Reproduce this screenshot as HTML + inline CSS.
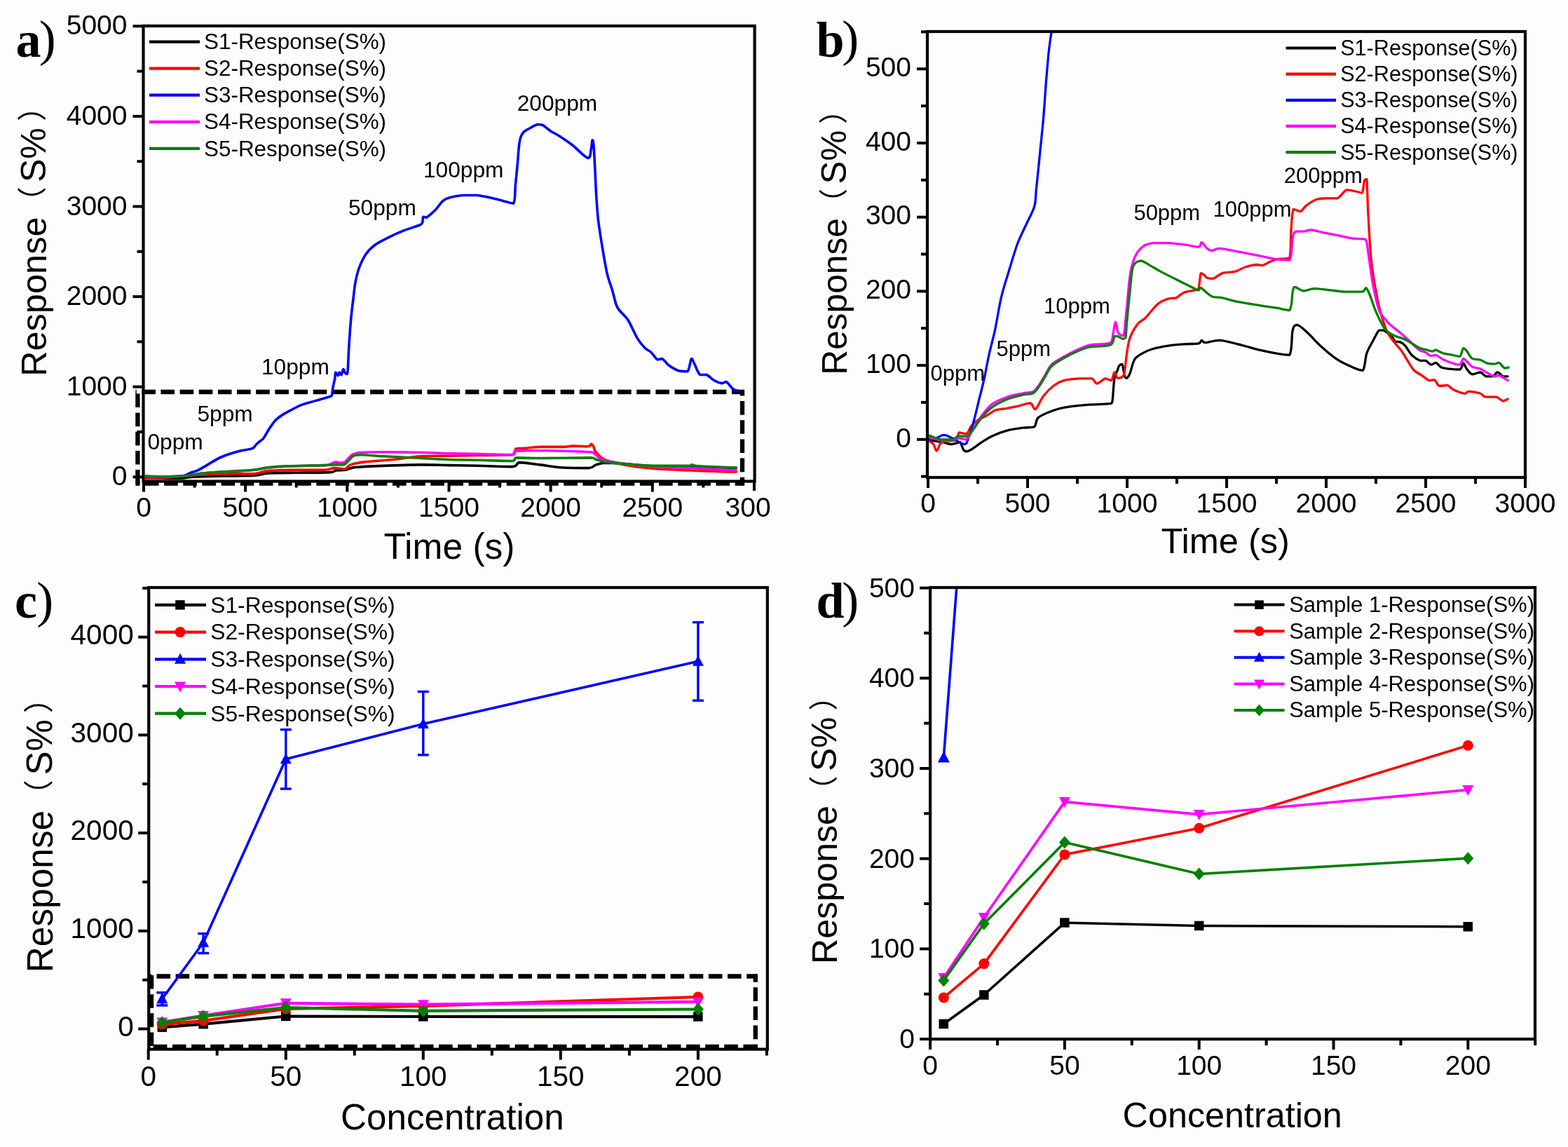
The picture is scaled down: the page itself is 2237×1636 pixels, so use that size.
<!DOCTYPE html>
<html><head><meta charset="utf-8"><title>Gas sensor response</title>
<style>html,body{margin:0;padding:0;background:#fdfdfd;}svg{display:block;}</style>
</head><body>
<svg width="2237" height="1636" viewBox="0 0 2237 1636">
<rect width="2237" height="1636" fill="#fdfdfd"/>
<rect x="204.5" y="37" width="872.0999999999999" height="649.5" fill="none" stroke="#000" stroke-width="4.2"/>
<line x1="189.5" y1="680.3" x2="204.5" y2="680.3" stroke="#000" stroke-width="4" />
<text x="181.5" y="692.3" font-size="39" text-anchor="end" style="font-family:'Liberation Sans',Arial,sans-serif" >0</text>
<line x1="189.5" y1="551.7" x2="204.5" y2="551.7" stroke="#000" stroke-width="4" />
<text x="181.5" y="563.7" font-size="39" text-anchor="end" style="font-family:'Liberation Sans',Arial,sans-serif" >1000</text>
<line x1="189.5" y1="423.1" x2="204.5" y2="423.1" stroke="#000" stroke-width="4" />
<text x="181.5" y="435.1" font-size="39" text-anchor="end" style="font-family:'Liberation Sans',Arial,sans-serif" >2000</text>
<line x1="189.5" y1="294.5" x2="204.5" y2="294.5" stroke="#000" stroke-width="4" />
<text x="181.5" y="306.5" font-size="39" text-anchor="end" style="font-family:'Liberation Sans',Arial,sans-serif" >3000</text>
<line x1="189.5" y1="165.9" x2="204.5" y2="165.9" stroke="#000" stroke-width="4" />
<text x="181.5" y="177.9" font-size="39" text-anchor="end" style="font-family:'Liberation Sans',Arial,sans-serif" >4000</text>
<line x1="189.5" y1="37.3" x2="204.5" y2="37.3" stroke="#000" stroke-width="4" />
<text x="181.5" y="49.3" font-size="39" text-anchor="end" style="font-family:'Liberation Sans',Arial,sans-serif" >5000</text>
<line x1="195.5" y1="616.0" x2="204.5" y2="616.0" stroke="#000" stroke-width="4" />
<line x1="195.5" y1="487.4" x2="204.5" y2="487.4" stroke="#000" stroke-width="4" />
<line x1="195.5" y1="358.8" x2="204.5" y2="358.8" stroke="#000" stroke-width="4" />
<line x1="195.5" y1="230.2" x2="204.5" y2="230.2" stroke="#000" stroke-width="4" />
<line x1="195.5" y1="101.6" x2="204.5" y2="101.6" stroke="#000" stroke-width="4" />
<line x1="205.0" y1="686.5" x2="205.0" y2="701.5" stroke="#000" stroke-width="4" />
<text x="205.0" y="737.0" font-size="39" text-anchor="middle" style="font-family:'Liberation Sans',Arial,sans-serif" >0</text>
<line x1="350.1" y1="686.5" x2="350.1" y2="701.5" stroke="#000" stroke-width="4" />
<text x="350.1" y="737.0" font-size="39" text-anchor="middle" style="font-family:'Liberation Sans',Arial,sans-serif" >500</text>
<line x1="495.3" y1="686.5" x2="495.3" y2="701.5" stroke="#000" stroke-width="4" />
<text x="495.3" y="737.0" font-size="39" text-anchor="middle" style="font-family:'Liberation Sans',Arial,sans-serif" >1000</text>
<line x1="640.5" y1="686.5" x2="640.5" y2="701.5" stroke="#000" stroke-width="4" />
<text x="640.5" y="737.0" font-size="39" text-anchor="middle" style="font-family:'Liberation Sans',Arial,sans-serif" >1500</text>
<line x1="785.6" y1="686.5" x2="785.6" y2="701.5" stroke="#000" stroke-width="4" />
<text x="785.6" y="737.0" font-size="39" text-anchor="middle" style="font-family:'Liberation Sans',Arial,sans-serif" >2000</text>
<line x1="930.8" y1="686.5" x2="930.8" y2="701.5" stroke="#000" stroke-width="4" />
<text x="930.8" y="737.0" font-size="39" text-anchor="middle" style="font-family:'Liberation Sans',Arial,sans-serif" >2500</text>
<line x1="277.6" y1="686.5" x2="277.6" y2="695.5" stroke="#000" stroke-width="4" />
<line x1="422.7" y1="686.5" x2="422.7" y2="695.5" stroke="#000" stroke-width="4" />
<line x1="567.9" y1="686.5" x2="567.9" y2="695.5" stroke="#000" stroke-width="4" />
<line x1="713.0" y1="686.5" x2="713.0" y2="695.5" stroke="#000" stroke-width="4" />
<line x1="858.2" y1="686.5" x2="858.2" y2="695.5" stroke="#000" stroke-width="4" />
<line x1="1003.3" y1="686.5" x2="1003.3" y2="695.5" stroke="#000" stroke-width="4" />
<line x1="1076.0" y1="686.0" x2="1076.0" y2="700.0" stroke="#000" stroke-width="4" />
<text x="1034.5" y="737.0" font-size="39" text-anchor="start" style="font-family:'Liberation Sans',Arial,sans-serif" >300</text>
<text x="641.0" y="796.5" font-size="51.5" text-anchor="middle" style="font-family:'Liberation Sans',Arial,sans-serif" >Time (s)</text>
<text x="0" y="0" font-size="50.58" transform="translate(65.5,537.1) rotate(-90)" style="font-family:'Liberation Sans',Arial,sans-serif">Response</text>
<text x="0" y="0" font-size="42.15" transform="translate(61.4,308.5) rotate(-90)" style="font-family:'Noto Sans CJK SC','Noto Sans CJK JP',sans-serif;font-weight:400">（</text>
<text x="0" y="0" font-size="50.17" transform="translate(64.8,260.1) rotate(-90)" style="font-family:'Liberation Sans',Arial,sans-serif">S%</text>
<text x="0" y="0" font-size="42.15" transform="translate(61.4,173.0) rotate(-90)" style="font-family:'Noto Sans CJK SC','Noto Sans CJK JP',sans-serif;font-weight:400">）</text>
<text x="22.5" y="80.5" font-size="72" text-anchor="start" style="font-family:'Liberation Serif','Times New Roman',serif;font-weight:bold" >a</text>
<text x="67.8" y="79.0" font-size="72" text-anchor="middle" style="font-family:'Liberation Serif','Times New Roman',serif" >)</text>
<line x1="213.0" y1="59.6" x2="285.0" y2="59.6" stroke="#000000" stroke-width="4.2" />
<text x="291.1" y="70.3" font-size="31.4" text-anchor="start" style="font-family:'Liberation Sans',Arial,sans-serif" >S1-Response(S%)</text>
<line x1="213.0" y1="97.7" x2="285.0" y2="97.7" stroke="#ff0000" stroke-width="4.2" />
<text x="291.1" y="108.4" font-size="31.4" text-anchor="start" style="font-family:'Liberation Sans',Arial,sans-serif" >S2-Response(S%)</text>
<line x1="213.0" y1="135.7" x2="285.0" y2="135.7" stroke="#0000ff" stroke-width="4.2" />
<text x="291.1" y="146.4" font-size="31.4" text-anchor="start" style="font-family:'Liberation Sans',Arial,sans-serif" >S3-Response(S%)</text>
<line x1="213.0" y1="173.8" x2="285.0" y2="173.8" stroke="#ff00ff" stroke-width="4.2" />
<text x="291.1" y="184.4" font-size="31.4" text-anchor="start" style="font-family:'Liberation Sans',Arial,sans-serif" >S4-Response(S%)</text>
<line x1="213.0" y1="211.8" x2="285.0" y2="211.8" stroke="#008000" stroke-width="4.2" />
<text x="291.1" y="222.5" font-size="31.4" text-anchor="start" style="font-family:'Liberation Sans',Arial,sans-serif" >S5-Response(S%)</text>
<text x="210.5" y="640.5" font-size="31.7" text-anchor="start" style="font-family:'Liberation Sans',Arial,sans-serif" >0ppm</text>
<text x="281.5" y="600.5" font-size="31.7" text-anchor="start" style="font-family:'Liberation Sans',Arial,sans-serif" >5ppm</text>
<text x="373.0" y="533.5" font-size="31.7" text-anchor="start" style="font-family:'Liberation Sans',Arial,sans-serif" >10ppm</text>
<text x="497.0" y="306.5" font-size="31.7" text-anchor="start" style="font-family:'Liberation Sans',Arial,sans-serif" >50ppm</text>
<text x="604.0" y="252.6" font-size="31.7" text-anchor="start" style="font-family:'Liberation Sans',Arial,sans-serif" >100ppm</text>
<text x="737.7" y="158.3" font-size="31.7" text-anchor="start" style="font-family:'Liberation Sans',Arial,sans-serif" >200ppm</text>
<line x1="193.4" y1="559" x2="1062" y2="559" stroke="#000" stroke-width="6.3" stroke-dasharray="19.6,7.55" stroke-dashoffset="18.25"/>
<line x1="193.4" y1="689.5" x2="1062" y2="689.5" stroke="#000" stroke-width="6.3" stroke-dasharray="19.6,7.55" stroke-dashoffset="13.55"/>
<line x1="196.4" y1="556" x2="196.4" y2="692.5" stroke="#000" stroke-width="6.3" stroke-dasharray="19.6,7.55" stroke-dashoffset="21.65"/>
<line x1="1059" y1="556" x2="1059" y2="692.5" stroke="#000" stroke-width="6.3" stroke-dasharray="19.6,7.55" stroke-dashoffset="11.05"/>
<rect x="1323" y="45" width="853" height="636" fill="none" stroke="#000" stroke-width="4.2"/>
<line x1="1308.0" y1="626.8" x2="1323.0" y2="626.8" stroke="#000" stroke-width="4" />
<text x="1300.0" y="637.5" font-size="39" text-anchor="end" style="font-family:'Liberation Sans',Arial,sans-serif" >0</text>
<line x1="1308.0" y1="521.1" x2="1323.0" y2="521.1" stroke="#000" stroke-width="4" />
<text x="1300.0" y="531.8" font-size="39" text-anchor="end" style="font-family:'Liberation Sans',Arial,sans-serif" >100</text>
<line x1="1308.0" y1="415.4" x2="1323.0" y2="415.4" stroke="#000" stroke-width="4" />
<text x="1300.0" y="426.1" font-size="39" text-anchor="end" style="font-family:'Liberation Sans',Arial,sans-serif" >200</text>
<line x1="1308.0" y1="309.7" x2="1323.0" y2="309.7" stroke="#000" stroke-width="4" />
<text x="1300.0" y="320.4" font-size="39" text-anchor="end" style="font-family:'Liberation Sans',Arial,sans-serif" >300</text>
<line x1="1308.0" y1="204.0" x2="1323.0" y2="204.0" stroke="#000" stroke-width="4" />
<text x="1300.0" y="214.7" font-size="39" text-anchor="end" style="font-family:'Liberation Sans',Arial,sans-serif" >400</text>
<line x1="1308.0" y1="98.3" x2="1323.0" y2="98.3" stroke="#000" stroke-width="4" />
<text x="1300.0" y="109.0" font-size="39" text-anchor="end" style="font-family:'Liberation Sans',Arial,sans-serif" >500</text>
<line x1="1314.0" y1="679.6" x2="1323.0" y2="679.6" stroke="#000" stroke-width="4" />
<line x1="1314.0" y1="573.9" x2="1323.0" y2="573.9" stroke="#000" stroke-width="4" />
<line x1="1314.0" y1="468.2" x2="1323.0" y2="468.2" stroke="#000" stroke-width="4" />
<line x1="1314.0" y1="362.5" x2="1323.0" y2="362.5" stroke="#000" stroke-width="4" />
<line x1="1314.0" y1="256.8" x2="1323.0" y2="256.8" stroke="#000" stroke-width="4" />
<line x1="1314.0" y1="151.1" x2="1323.0" y2="151.1" stroke="#000" stroke-width="4" />
<line x1="1314.0" y1="45.4" x2="1323.0" y2="45.4" stroke="#000" stroke-width="4" />
<line x1="1324.0" y1="681.0" x2="1324.0" y2="696.0" stroke="#000" stroke-width="4" />
<text x="1324.0" y="731.0" font-size="39" text-anchor="middle" style="font-family:'Liberation Sans',Arial,sans-serif" >0</text>
<line x1="1466.0" y1="681.0" x2="1466.0" y2="696.0" stroke="#000" stroke-width="4" />
<text x="1466.0" y="731.0" font-size="39" text-anchor="middle" style="font-family:'Liberation Sans',Arial,sans-serif" >500</text>
<line x1="1608.0" y1="681.0" x2="1608.0" y2="696.0" stroke="#000" stroke-width="4" />
<text x="1608.0" y="731.0" font-size="39" text-anchor="middle" style="font-family:'Liberation Sans',Arial,sans-serif" >1000</text>
<line x1="1750.0" y1="681.0" x2="1750.0" y2="696.0" stroke="#000" stroke-width="4" />
<text x="1750.0" y="731.0" font-size="39" text-anchor="middle" style="font-family:'Liberation Sans',Arial,sans-serif" >1500</text>
<line x1="1892.0" y1="681.0" x2="1892.0" y2="696.0" stroke="#000" stroke-width="4" />
<text x="1892.0" y="731.0" font-size="39" text-anchor="middle" style="font-family:'Liberation Sans',Arial,sans-serif" >2000</text>
<line x1="2034.0" y1="681.0" x2="2034.0" y2="696.0" stroke="#000" stroke-width="4" />
<text x="2034.0" y="731.0" font-size="39" text-anchor="middle" style="font-family:'Liberation Sans',Arial,sans-serif" >2500</text>
<line x1="2176.0" y1="681.0" x2="2176.0" y2="696.0" stroke="#000" stroke-width="4" />
<text x="2176.0" y="731.0" font-size="39" text-anchor="middle" style="font-family:'Liberation Sans',Arial,sans-serif" >3000</text>
<line x1="1395.0" y1="681.0" x2="1395.0" y2="690.0" stroke="#000" stroke-width="4" />
<line x1="1537.0" y1="681.0" x2="1537.0" y2="690.0" stroke="#000" stroke-width="4" />
<line x1="1679.0" y1="681.0" x2="1679.0" y2="690.0" stroke="#000" stroke-width="4" />
<line x1="1821.0" y1="681.0" x2="1821.0" y2="690.0" stroke="#000" stroke-width="4" />
<line x1="1963.0" y1="681.0" x2="1963.0" y2="690.0" stroke="#000" stroke-width="4" />
<line x1="2105.0" y1="681.0" x2="2105.0" y2="690.0" stroke="#000" stroke-width="4" />
<text x="1748.2" y="789.0" font-size="50.5" text-anchor="middle" style="font-family:'Liberation Sans',Arial,sans-serif" >Time (s)</text>
<text x="0" y="0" font-size="49.71" transform="translate(1207.5,534.8) rotate(-90)" style="font-family:'Liberation Sans',Arial,sans-serif">Response</text>
<text x="0" y="0" font-size="41.43" transform="translate(1203.5,310.2) rotate(-90)" style="font-family:'Noto Sans CJK SC','Noto Sans CJK JP',sans-serif;font-weight:400">（</text>
<text x="0" y="0" font-size="49.32" transform="translate(1206.8,262.5) rotate(-90)" style="font-family:'Liberation Sans',Arial,sans-serif">S%</text>
<text x="0" y="0" font-size="41.43" transform="translate(1203.5,177.0) rotate(-90)" style="font-family:'Noto Sans CJK SC','Noto Sans CJK JP',sans-serif;font-weight:400">）</text>
<text x="1164.4" y="80.5" font-size="72" text-anchor="start" style="font-family:'Liberation Serif','Times New Roman',serif;font-weight:bold" >b</text>
<text x="1213.3" y="79.0" font-size="72" text-anchor="middle" style="font-family:'Liberation Serif','Times New Roman',serif" >)</text>
<line x1="1834.5" y1="68.5" x2="1906.0" y2="68.5" stroke="#000000" stroke-width="4.2" />
<text x="1912.2" y="79.0" font-size="30.6" text-anchor="start" style="font-family:'Liberation Sans',Arial,sans-serif" >S1-Response(S%)</text>
<line x1="1834.5" y1="105.7" x2="1906.0" y2="105.7" stroke="#ff0000" stroke-width="4.2" />
<text x="1912.2" y="116.2" font-size="30.6" text-anchor="start" style="font-family:'Liberation Sans',Arial,sans-serif" >S2-Response(S%)</text>
<line x1="1834.5" y1="142.8" x2="1906.0" y2="142.8" stroke="#0000ff" stroke-width="4.2" />
<text x="1912.2" y="153.3" font-size="30.6" text-anchor="start" style="font-family:'Liberation Sans',Arial,sans-serif" >S3-Response(S%)</text>
<line x1="1834.5" y1="179.9" x2="1906.0" y2="179.9" stroke="#ff00ff" stroke-width="4.2" />
<text x="1912.2" y="190.4" font-size="30.6" text-anchor="start" style="font-family:'Liberation Sans',Arial,sans-serif" >S4-Response(S%)</text>
<line x1="1834.5" y1="217.1" x2="1906.0" y2="217.1" stroke="#008000" stroke-width="4.2" />
<text x="1912.2" y="227.6" font-size="30.6" text-anchor="start" style="font-family:'Liberation Sans',Arial,sans-serif" >S5-Response(S%)</text>
<text x="1327.5" y="542.5" font-size="31" text-anchor="start" style="font-family:'Liberation Sans',Arial,sans-serif" >0ppm</text>
<text x="1421.5" y="508.0" font-size="31" text-anchor="start" style="font-family:'Liberation Sans',Arial,sans-serif" >5ppm</text>
<text x="1489.0" y="447.0" font-size="31" text-anchor="start" style="font-family:'Liberation Sans',Arial,sans-serif" >10ppm</text>
<text x="1617.4" y="313.5" font-size="31" text-anchor="start" style="font-family:'Liberation Sans',Arial,sans-serif" >50ppm</text>
<text x="1730.5" y="309.0" font-size="31" text-anchor="start" style="font-family:'Liberation Sans',Arial,sans-serif" >100ppm</text>
<text x="1831.7" y="260.5" font-size="31" text-anchor="start" style="font-family:'Liberation Sans',Arial,sans-serif" >200ppm</text>
<rect x="212.2" y="838" width="882.5999999999999" height="658.5999999999999" fill="none" stroke="#000" stroke-width="4.2"/>
<line x1="197.2" y1="1467.5" x2="212.2" y2="1467.5" stroke="#000" stroke-width="4" />
<text x="190.7" y="1477.7" font-size="40.5" text-anchor="end" style="font-family:'Liberation Sans',Arial,sans-serif" >0</text>
<line x1="197.2" y1="1327.8" x2="212.2" y2="1327.8" stroke="#000" stroke-width="4" />
<text x="190.7" y="1338.0" font-size="40.5" text-anchor="end" style="font-family:'Liberation Sans',Arial,sans-serif" >1000</text>
<line x1="197.2" y1="1188.1" x2="212.2" y2="1188.1" stroke="#000" stroke-width="4" />
<text x="190.7" y="1198.3" font-size="40.5" text-anchor="end" style="font-family:'Liberation Sans',Arial,sans-serif" >2000</text>
<line x1="197.2" y1="1048.4" x2="212.2" y2="1048.4" stroke="#000" stroke-width="4" />
<text x="190.7" y="1058.6" font-size="40.5" text-anchor="end" style="font-family:'Liberation Sans',Arial,sans-serif" >3000</text>
<line x1="197.2" y1="908.7" x2="212.2" y2="908.7" stroke="#000" stroke-width="4" />
<text x="190.7" y="918.9" font-size="40.5" text-anchor="end" style="font-family:'Liberation Sans',Arial,sans-serif" >4000</text>
<line x1="203.2" y1="1397.7" x2="212.2" y2="1397.7" stroke="#000" stroke-width="4" />
<line x1="203.2" y1="1258.0" x2="212.2" y2="1258.0" stroke="#000" stroke-width="4" />
<line x1="203.2" y1="1118.2" x2="212.2" y2="1118.2" stroke="#000" stroke-width="4" />
<line x1="203.2" y1="978.5" x2="212.2" y2="978.5" stroke="#000" stroke-width="4" />
<line x1="203.2" y1="838.9" x2="212.2" y2="838.9" stroke="#000" stroke-width="4" />
<line x1="211.7" y1="1496.6" x2="211.7" y2="1511.6" stroke="#000" stroke-width="4" />
<text x="211.7" y="1549.0" font-size="40.5" text-anchor="middle" style="font-family:'Liberation Sans',Arial,sans-serif" >0</text>
<line x1="407.8" y1="1496.6" x2="407.8" y2="1511.6" stroke="#000" stroke-width="4" />
<text x="407.8" y="1549.0" font-size="40.5" text-anchor="middle" style="font-family:'Liberation Sans',Arial,sans-serif" >50</text>
<line x1="603.8" y1="1496.6" x2="603.8" y2="1511.6" stroke="#000" stroke-width="4" />
<text x="603.8" y="1549.0" font-size="40.5" text-anchor="middle" style="font-family:'Liberation Sans',Arial,sans-serif" >100</text>
<line x1="799.8" y1="1496.6" x2="799.8" y2="1511.6" stroke="#000" stroke-width="4" />
<text x="799.8" y="1549.0" font-size="40.5" text-anchor="middle" style="font-family:'Liberation Sans',Arial,sans-serif" >150</text>
<line x1="995.9" y1="1496.6" x2="995.9" y2="1511.6" stroke="#000" stroke-width="4" />
<text x="995.9" y="1549.0" font-size="40.5" text-anchor="middle" style="font-family:'Liberation Sans',Arial,sans-serif" >200</text>
<line x1="309.7" y1="1496.6" x2="309.7" y2="1505.6" stroke="#000" stroke-width="4" />
<line x1="505.8" y1="1496.6" x2="505.8" y2="1505.6" stroke="#000" stroke-width="4" />
<line x1="701.8" y1="1496.6" x2="701.8" y2="1505.6" stroke="#000" stroke-width="4" />
<line x1="897.9" y1="1496.6" x2="897.9" y2="1505.6" stroke="#000" stroke-width="4" />
<line x1="1093.9" y1="1496.6" x2="1093.9" y2="1505.6" stroke="#000" stroke-width="4" />
<text x="645.4" y="1610.8" font-size="51.2" text-anchor="middle" style="font-family:'Liberation Sans',Arial,sans-serif" >Concentration</text>
<text x="0" y="0" font-size="51.41" transform="translate(75.0,1387.3) rotate(-90)" style="font-family:'Liberation Sans',Arial,sans-serif">Response</text>
<text x="0" y="0" font-size="42.84" transform="translate(70.8,1154.9) rotate(-90)" style="font-family:'Noto Sans CJK SC','Noto Sans CJK JP',sans-serif;font-weight:400">（</text>
<text x="0" y="0" font-size="51.01" transform="translate(74.3,1105.6) rotate(-90)" style="font-family:'Liberation Sans',Arial,sans-serif">S%</text>
<text x="0" y="0" font-size="42.84" transform="translate(70.8,1017.2) rotate(-90)" style="font-family:'Noto Sans CJK SC','Noto Sans CJK JP',sans-serif;font-weight:400">）</text>
<text x="21.0" y="881.0" font-size="72" text-anchor="start" style="font-family:'Liberation Serif','Times New Roman',serif;font-weight:bold" >c</text>
<text x="64.2" y="879.5" font-size="72" text-anchor="middle" style="font-family:'Liberation Serif','Times New Roman',serif" >)</text>
<line x1="221.0" y1="862.9" x2="294.0" y2="862.9" stroke="#000000" stroke-width="4.2" />
<text x="300.2" y="873.7" font-size="31.8" text-anchor="start" style="font-family:'Liberation Sans',Arial,sans-serif" >S1-Response(S%)</text>
<line x1="221.0" y1="901.6" x2="294.0" y2="901.6" stroke="#ff0000" stroke-width="4.2" />
<text x="300.2" y="912.4" font-size="31.8" text-anchor="start" style="font-family:'Liberation Sans',Arial,sans-serif" >S2-Response(S%)</text>
<line x1="221.0" y1="940.3" x2="294.0" y2="940.3" stroke="#0000ff" stroke-width="4.2" />
<text x="300.2" y="951.1" font-size="31.8" text-anchor="start" style="font-family:'Liberation Sans',Arial,sans-serif" >S3-Response(S%)</text>
<line x1="221.0" y1="979.0" x2="294.0" y2="979.0" stroke="#ff00ff" stroke-width="4.2" />
<text x="300.2" y="989.8" font-size="31.8" text-anchor="start" style="font-family:'Liberation Sans',Arial,sans-serif" >S4-Response(S%)</text>
<line x1="221.0" y1="1017.7" x2="294.0" y2="1017.7" stroke="#008000" stroke-width="4.2" />
<text x="300.2" y="1028.5" font-size="31.8" text-anchor="start" style="font-family:'Liberation Sans',Arial,sans-serif" >S5-Response(S%)</text>
<line x1="213.1" y1="1392.5" x2="1080.8" y2="1392.5" stroke="#000" stroke-width="6.3" stroke-dasharray="19.6,7.55" stroke-dashoffset="16.75"/>
<line x1="213.1" y1="1492.8" x2="1080.8" y2="1492.8" stroke="#000" stroke-width="6.3" stroke-dasharray="19.6,7.55" stroke-dashoffset="21.45"/>
<line x1="216.1" y1="1389.5" x2="216.1" y2="1495.8" stroke="#000" stroke-width="6.3" stroke-dasharray="19.6,7.55" stroke-dashoffset="25.65"/>
<line x1="1077.8" y1="1389.5" x2="1077.8" y2="1495.8" stroke="#000" stroke-width="6.3" stroke-dasharray="19.6,7.55" stroke-dashoffset="8.35"/>
<rect x="1327.1" y="838" width="862.9000000000001" height="644.0999999999999" fill="none" stroke="#000" stroke-width="4.2"/>
<line x1="1312.1" y1="1482.1" x2="1327.1" y2="1482.1" stroke="#000" stroke-width="4" />
<text x="1305.0" y="1495.1" font-size="39" text-anchor="end" style="font-family:'Liberation Sans',Arial,sans-serif" >0</text>
<line x1="1312.1" y1="1353.4" x2="1327.1" y2="1353.4" stroke="#000" stroke-width="4" />
<text x="1305.0" y="1366.4" font-size="39" text-anchor="end" style="font-family:'Liberation Sans',Arial,sans-serif" >100</text>
<line x1="1312.1" y1="1224.7" x2="1327.1" y2="1224.7" stroke="#000" stroke-width="4" />
<text x="1305.0" y="1237.7" font-size="39" text-anchor="end" style="font-family:'Liberation Sans',Arial,sans-serif" >200</text>
<line x1="1312.1" y1="1096.0" x2="1327.1" y2="1096.0" stroke="#000" stroke-width="4" />
<text x="1305.0" y="1109.0" font-size="39" text-anchor="end" style="font-family:'Liberation Sans',Arial,sans-serif" >300</text>
<line x1="1312.1" y1="967.3" x2="1327.1" y2="967.3" stroke="#000" stroke-width="4" />
<text x="1305.0" y="980.3" font-size="39" text-anchor="end" style="font-family:'Liberation Sans',Arial,sans-serif" >400</text>
<line x1="1312.1" y1="838.6" x2="1327.1" y2="838.6" stroke="#000" stroke-width="4" />
<text x="1305.0" y="851.6" font-size="39" text-anchor="end" style="font-family:'Liberation Sans',Arial,sans-serif" >500</text>
<line x1="1318.1" y1="1417.8" x2="1327.1" y2="1417.8" stroke="#000" stroke-width="4" />
<line x1="1318.1" y1="1289.0" x2="1327.1" y2="1289.0" stroke="#000" stroke-width="4" />
<line x1="1318.1" y1="1160.3" x2="1327.1" y2="1160.3" stroke="#000" stroke-width="4" />
<line x1="1318.1" y1="1031.6" x2="1327.1" y2="1031.6" stroke="#000" stroke-width="4" />
<line x1="1318.1" y1="902.9" x2="1327.1" y2="902.9" stroke="#000" stroke-width="4" />
<line x1="1327.1" y1="1482.1" x2="1327.1" y2="1497.1" stroke="#000" stroke-width="4" />
<text x="1327.1" y="1533.0" font-size="39" text-anchor="middle" style="font-family:'Liberation Sans',Arial,sans-serif" >0</text>
<line x1="1518.9" y1="1482.1" x2="1518.9" y2="1497.1" stroke="#000" stroke-width="4" />
<text x="1518.9" y="1533.0" font-size="39" text-anchor="middle" style="font-family:'Liberation Sans',Arial,sans-serif" >50</text>
<line x1="1710.7" y1="1482.1" x2="1710.7" y2="1497.1" stroke="#000" stroke-width="4" />
<text x="1710.7" y="1533.0" font-size="39" text-anchor="middle" style="font-family:'Liberation Sans',Arial,sans-serif" >100</text>
<line x1="1902.5" y1="1482.1" x2="1902.5" y2="1497.1" stroke="#000" stroke-width="4" />
<text x="1902.5" y="1533.0" font-size="39" text-anchor="middle" style="font-family:'Liberation Sans',Arial,sans-serif" >150</text>
<line x1="2094.3" y1="1482.1" x2="2094.3" y2="1497.1" stroke="#000" stroke-width="4" />
<text x="2094.3" y="1533.0" font-size="39" text-anchor="middle" style="font-family:'Liberation Sans',Arial,sans-serif" >200</text>
<line x1="1423.0" y1="1482.1" x2="1423.0" y2="1491.1" stroke="#000" stroke-width="4" />
<line x1="1614.8" y1="1482.1" x2="1614.8" y2="1491.1" stroke="#000" stroke-width="4" />
<line x1="1806.6" y1="1482.1" x2="1806.6" y2="1491.1" stroke="#000" stroke-width="4" />
<line x1="1998.4" y1="1482.1" x2="1998.4" y2="1491.1" stroke="#000" stroke-width="4" />
<line x1="2190.2" y1="1482.1" x2="2190.2" y2="1491.1" stroke="#000" stroke-width="4" />
<text x="1758.2" y="1607.5" font-size="50.3" text-anchor="middle" style="font-family:'Liberation Sans',Arial,sans-serif" >Concentration</text>
<text x="0" y="0" font-size="50.17" transform="translate(1194.0,1375.0) rotate(-90)" style="font-family:'Liberation Sans',Arial,sans-serif">Response</text>
<text x="0" y="0" font-size="41.81" transform="translate(1189.9,1148.2) rotate(-90)" style="font-family:'Noto Sans CJK SC','Noto Sans CJK JP',sans-serif;font-weight:400">（</text>
<text x="0" y="0" font-size="49.77" transform="translate(1193.3,1100.1) rotate(-90)" style="font-family:'Liberation Sans',Arial,sans-serif">S%</text>
<text x="0" y="0" font-size="41.81" transform="translate(1189.9,1013.8) rotate(-90)" style="font-family:'Noto Sans CJK SC','Noto Sans CJK JP',sans-serif;font-weight:400">）</text>
<text x="1164.5" y="881.0" font-size="72" text-anchor="start" style="font-family:'Liberation Serif','Times New Roman',serif;font-weight:bold" >d</text>
<text x="1213.3" y="879.5" font-size="72" text-anchor="middle" style="font-family:'Liberation Serif','Times New Roman',serif" >)</text>
<line x1="1760.6" y1="862.6" x2="1832.5" y2="862.6" stroke="#000000" stroke-width="4" />
<text x="1839.2" y="872.9" font-size="31" text-anchor="start" style="font-family:'Liberation Sans',Arial,sans-serif" >Sample 1-Response(S%)</text>
<line x1="1760.6" y1="900.2" x2="1832.5" y2="900.2" stroke="#ff0000" stroke-width="4" />
<text x="1839.2" y="910.5" font-size="31" text-anchor="start" style="font-family:'Liberation Sans',Arial,sans-serif" >Sample 2-Response(S%)</text>
<line x1="1760.6" y1="937.8" x2="1832.5" y2="937.8" stroke="#0000ff" stroke-width="4" />
<text x="1839.2" y="948.1" font-size="31" text-anchor="start" style="font-family:'Liberation Sans',Arial,sans-serif" >Sample 3-Response(S%)</text>
<line x1="1760.6" y1="975.4" x2="1832.5" y2="975.4" stroke="#ff00ff" stroke-width="4" />
<text x="1839.2" y="985.7" font-size="31" text-anchor="start" style="font-family:'Liberation Sans',Arial,sans-serif" >Sample 4-Response(S%)</text>
<line x1="1760.6" y1="1013.0" x2="1832.5" y2="1013.0" stroke="#008000" stroke-width="4" />
<text x="1839.2" y="1023.3" font-size="31" text-anchor="start" style="font-family:'Liberation Sans',Arial,sans-serif" >Sample 5-Response(S%)</text>
<defs><clipPath id="ca"><rect x="206" y="39" width="868" height="645"/></clipPath><clipPath id="cb"><rect x="1325" y="47" width="849" height="631"/></clipPath><clipPath id="cd"><rect x="1330" y="840" width="858" height="640"/></clipPath></defs>
<g clip-path="url(#ca)">
<path d="M206.4,681.7 C213.4,681.9 237.1,683.0 248.6,683.0 C260.1,682.8 264.3,681.0 275.5,680.3 C286.7,679.6 301.2,679.3 315.7,679.0 C330.2,678.7 351.4,679.0 362.6,678.3 C373.8,677.6 372.6,675.7 382.7,675.0 C392.8,674.3 408.4,674.5 423.0,674.3 C437.6,674.1 460.6,674.1 470.0,673.6 C479.3,673.1 475.4,671.5 479.3,671.0 C483.2,670.5 489.3,671.0 493.4,670.3 C497.5,669.6 497.4,667.8 504.1,666.9 C510.8,666.0 517.5,665.6 533.6,664.9 C549.7,664.2 582.8,663.1 600.7,662.9 C618.6,662.9 627.5,663.4 640.9,663.6 C654.3,663.8 666.2,664.0 681.2,664.3 C696.2,664.6 720.8,665.6 730.8,665.6 C740.8,664.8 735.0,660.1 741.5,659.6 C748.0,659.6 759.7,661.7 770.0,662.9 C780.3,664.1 791.9,666.2 803.5,667.0 C815.1,667.6 831.9,667.6 839.7,667.6 C847.5,666.9 846.5,664.1 850.5,662.9 C854.5,661.7 857.2,660.4 863.9,660.2 C870.6,660.2 879.5,660.8 890.7,661.6 C901.9,662.4 915.2,664.1 930.9,664.8 C946.5,665.4 964.7,665.0 984.6,665.5 C1004.5,666.0 1039.3,667.2 1050.3,667.5" fill="none" stroke="#000000" stroke-width="3.6" stroke-linejoin="round" stroke-linecap="round"/>
<path d="M206.4,680.3 C207.8,680.8 206.4,683.0 215.0,683.0 C224.3,682.8 249.7,680.0 262.0,679.0 C274.3,678.0 277.7,677.5 288.9,677.0 C300.1,676.5 316.7,675.9 329.0,675.7 C341.3,675.7 353.7,675.7 362.6,675.7 C371.6,675.0 372.6,672.5 382.7,671.6 C392.8,670.7 409.6,670.5 423.0,670.3 C436.4,670.3 454.3,670.3 463.2,670.3 C472.1,669.8 471.8,667.8 476.6,667.6 C481.4,667.6 488.1,668.9 492.0,668.9 C495.9,668.1 495.4,664.6 500.1,662.9 C504.8,661.2 510.1,660.1 520.2,658.9 C530.3,657.7 547.1,656.9 560.5,655.5 C573.9,654.1 587.3,651.7 600.7,650.8 C614.1,650.2 627.5,650.4 640.9,650.2 C654.3,650.0 666.0,649.8 681.2,649.5 C696.4,649.2 723.0,649.5 732.1,648.2 C736.1,646.6 733.4,641.6 736.1,640.1 C738.8,639.4 742.6,639.9 748.2,639.4 C753.9,638.9 760.8,637.7 770.0,637.4 C779.2,637.4 795.7,637.4 803.5,637.4 C811.3,637.2 811.0,636.2 817.0,636.1 C823.0,636.1 835.4,636.8 839.7,636.8 C843.1,636.3 842.0,633.5 843.1,633.4 C844.2,633.4 845.2,634.1 846.4,636.1 C847.6,638.1 847.6,642.1 850.5,645.5 C853.4,648.9 857.2,653.3 863.9,656.2 C870.6,659.1 879.5,660.9 890.7,662.9 C901.9,664.9 915.2,666.9 930.9,668.3 C946.5,669.6 966.7,670.2 984.6,671.0 C1002.5,671.8 1027.2,672.7 1038.2,673.0 C1049.2,673.0 1048.3,673.0 1050.3,673.0" fill="none" stroke="#ff0000" stroke-width="3.6" stroke-linejoin="round" stroke-linecap="round"/>
<path d="M206.0,680.0 C210.0,680.1 221.0,680.5 230.0,680.5 C239.0,680.3 253.1,680.0 260.0,679.0 C266.9,678.0 267.8,675.9 271.5,674.5 C275.2,673.1 278.6,672.4 282.2,670.8 C285.8,669.2 289.3,667.0 292.9,664.9 C296.5,662.8 300.0,660.5 303.6,658.4 C307.2,656.3 310.8,654.2 314.4,652.5 C318.0,650.8 321.5,649.5 325.1,648.2 C328.7,647.0 332.2,646.0 335.8,645.0 C339.4,644.0 342.6,643.2 346.6,642.3 C350.6,641.4 356.9,641.0 360.0,639.7 C363.1,638.4 363.6,635.9 365.3,634.3 C367.0,632.7 368.2,631.5 370.0,630.0 C371.8,628.5 373.8,627.9 376.0,625.0 C378.2,622.1 380.6,616.9 383.4,612.7 C386.1,608.5 389.4,603.2 392.5,599.9 C395.6,596.5 398.0,595.0 401.7,592.6 C405.4,590.2 410.0,587.7 414.6,585.2 C419.2,582.8 423.7,580.0 429.2,577.9 C434.7,575.8 440.9,574.4 447.6,572.4 C454.3,570.4 465.3,567.4 469.6,566.0 C473.2,564.6 472.3,566.0 473.2,564.1 C474.1,561.8 474.3,556.3 475.1,552.2 C475.9,548.1 477.2,542.9 477.8,539.4 C478.4,535.9 478.0,531.7 478.8,531.1 C479.6,531.1 481.5,535.7 482.4,535.7 C483.3,535.7 483.4,531.2 484.2,531.1 C485.0,531.1 486.1,534.8 487.0,534.8 C487.9,534.0 488.8,527.0 489.7,526.5 C490.6,526.5 491.6,530.8 492.5,532.0 C493.4,533.2 494.3,533.5 494.9,533.5 C495.5,532.9 495.7,533.5 496.2,528.4 C496.7,521.4 497.2,503.9 498.0,491.7 C498.8,479.5 499.7,466.1 500.7,455.0 C501.7,443.9 503.1,433.6 504.2,424.8 C505.3,416.0 505.7,409.3 507.1,402.0 C508.5,394.7 510.2,387.8 512.7,381.2 C515.2,374.6 518.4,367.6 522.2,362.2 C526.0,356.8 530.1,352.9 535.5,349.0 C540.9,345.1 547.8,341.9 554.4,338.6 C561.0,335.3 567.7,332.1 575.3,329.1 C582.9,326.1 595.3,322.6 599.9,320.5 C602.8,318.4 602.2,318.7 602.8,316.8 C603.4,314.9 602.8,310.3 603.7,309.2 C604.6,309.2 605.5,310.1 608.4,310.1 C611.2,308.5 616.8,303.6 620.8,299.7 C624.8,295.8 628.6,289.4 632.1,286.4 C635.6,283.4 636.9,283.0 641.6,281.7 C646.3,280.4 654.2,279.0 660.5,278.5 C666.8,278.5 673.2,278.5 679.5,278.5 C685.8,279.0 692.2,280.4 698.5,281.7 C704.8,283.0 711.7,285.0 717.4,286.4 C723.1,287.8 729.6,290.2 732.6,290.2 C735.4,286.4 734.5,272.8 735.4,263.7 C736.3,254.5 737.2,245.4 738.2,235.3 C739.2,225.2 739.8,210.7 741.1,203.1 C742.4,195.5 743.4,193.1 745.8,189.8 C748.2,186.5 751.8,185.2 755.3,183.2 C758.8,181.1 763.5,178.3 766.7,177.5 C769.9,177.5 771.1,177.5 774.3,178.4 C777.4,180.0 781.6,184.4 785.6,187.0 C789.6,189.6 793.1,190.9 798.3,194.2 C803.5,197.5 810.0,201.8 816.7,207.0 C823.4,212.2 834.3,224.5 838.7,225.4 C843.1,225.4 842.2,216.8 843.3,212.5 C844.4,208.2 844.5,200.6 845.1,199.7 C845.7,199.7 846.3,200.3 846.9,207.0 C847.5,213.7 848.2,228.4 848.8,240.0 C849.4,251.6 849.8,264.5 850.6,276.7 C851.4,288.9 852.0,301.2 853.4,313.4 C854.8,325.6 856.8,337.3 858.9,350.1 C861.0,362.9 863.8,379.8 866.2,390.4 C868.6,400.9 871.3,406.2 873.4,413.4 C875.5,420.6 877.2,428.9 878.8,433.6 C880.4,438.3 880.2,438.1 882.9,441.7 C885.6,445.3 892.1,451.3 895.0,455.1 C897.9,458.9 897.8,459.9 900.3,464.6 C902.8,469.3 906.4,478.0 909.8,483.4 C913.2,488.8 917.4,493.7 920.5,496.8 C923.6,499.9 925.7,499.5 928.6,502.2 C931.5,504.9 935.3,511.4 938.0,513.0 C940.7,513.0 942.0,511.6 944.7,511.6 C947.4,512.9 950.1,518.1 954.1,521.0 C958.1,523.9 964.4,527.6 968.9,529.1 C973.4,529.8 978.1,529.8 981.0,529.8 C983.9,526.9 984.8,513.5 986.4,511.6 C988.0,511.6 988.4,514.5 990.4,518.3 C992.4,522.1 995.6,531.8 998.5,534.5 C1001.4,534.5 1004.5,534.5 1007.9,534.5 C1011.3,535.8 1015.1,540.5 1018.7,542.5 C1022.3,544.5 1026.5,546.2 1029.4,546.6 C1032.3,546.6 1033.5,544.6 1036.2,544.6 C1038.9,546.0 1042.9,552.6 1045.6,554.7 C1048.3,556.8 1051.2,556.9 1052.3,557.3" fill="none" stroke="#0000ff" stroke-width="3.6" stroke-linejoin="round" stroke-linecap="round"/>
<path d="M206.4,679.5 C211.2,679.6 225.9,680.0 235.2,680.0 C244.5,679.9 253.1,679.8 262.0,679.0 C270.9,678.2 279.9,676.0 288.9,675.0 C297.8,674.0 306.8,673.6 315.7,673.0 C324.6,672.4 334.7,672.1 342.5,671.6 C350.3,671.1 355.9,671.1 362.6,670.3 C369.3,669.5 374.9,667.8 382.7,666.9 C390.5,666.0 400.7,665.3 409.6,664.9 C418.6,664.5 427.5,664.5 436.4,664.3 C445.3,664.1 457.6,663.9 463.2,663.6 C468.8,663.3 467.8,663.2 470.0,662.5 C472.2,661.8 474.9,660.1 476.6,659.5 C478.3,658.9 478.5,658.9 480.0,658.9 C481.5,659.0 483.4,660.2 485.4,660.2 C487.4,660.2 489.1,660.2 492.0,658.9 C494.9,656.9 499.0,650.4 502.8,648.2 C506.6,646.0 507.5,646.1 514.9,645.5 C522.3,644.9 532.0,644.8 547.0,644.8 C562.0,644.8 589.1,645.2 604.7,645.5 C620.4,645.8 628.1,646.5 640.9,646.8 C653.6,647.1 666.0,647.2 681.2,647.5 C696.4,647.8 723.2,648.8 732.1,648.8 C734.8,648.1 732.1,644.5 734.8,643.5 C737.5,642.8 740.7,642.9 748.2,642.8 C755.7,642.8 764.3,642.8 780.0,642.8 C795.7,643.1 831.1,644.1 842.4,644.8 C847.8,645.5 845.3,645.1 847.8,646.8 C850.3,648.5 853.4,653.0 857.2,654.9 C861.0,656.8 865.0,657.1 870.6,658.2 C876.2,659.3 880.7,660.4 890.7,661.6 C900.8,662.8 915.2,664.5 930.9,665.5 C946.5,666.5 964.7,666.6 984.6,667.5 C1004.5,668.4 1039.3,670.4 1050.3,671.0" fill="none" stroke="#ff00ff" stroke-width="3.6" stroke-linejoin="round" stroke-linecap="round"/>
<path d="M206.4,679.0 C211.2,679.1 225.9,679.7 235.2,679.7 C244.5,679.7 253.1,679.7 262.0,679.0 C270.9,678.2 279.9,676.0 288.9,675.0 C297.8,674.0 306.8,673.6 315.7,673.0 C324.6,672.4 334.7,672.1 342.5,671.6 C350.3,671.1 355.9,671.1 362.6,670.3 C369.3,669.5 374.9,667.8 382.7,666.9 C390.5,666.0 400.7,665.3 409.6,664.9 C418.6,664.5 427.5,664.5 436.4,664.3 C445.3,664.1 456.5,663.8 463.2,663.6 C469.9,663.4 472.0,663.0 476.6,662.9 C481.2,662.9 486.1,662.9 490.7,662.9 C495.3,660.8 500.1,652.6 504.1,650.2 C508.1,648.8 507.8,648.8 514.9,648.8 C522.0,648.9 532.7,650.0 547.0,650.8 C561.3,651.6 585.1,652.7 600.7,653.5 C616.4,654.3 627.5,655.0 640.9,655.5 C654.3,656.0 666.2,655.9 681.2,656.2 C696.2,656.5 721.4,657.5 730.8,657.5 C737.5,657.0 731.0,653.6 737.5,652.9 C744.0,652.9 752.5,653.5 770.0,653.5 C787.5,653.5 829.0,652.9 842.4,652.9 C850.5,653.2 846.9,654.5 850.5,655.5 C854.1,656.5 857.2,657.9 863.9,658.9 C870.6,659.9 879.5,660.7 890.7,661.6 C901.9,662.5 915.2,663.8 930.9,664.3 C946.5,664.3 975.2,664.3 984.6,664.3 C987.2,664.1 985.0,662.9 987.2,662.9 C989.4,663.0 987.5,664.2 998.0,664.9 C1008.5,665.6 1041.6,666.6 1050.3,666.9" fill="none" stroke="#008000" stroke-width="3.6" stroke-linejoin="round" stroke-linecap="round"/>
</g>
<g clip-path="url(#cb)">
<path d="M1322.9,627.8 C1324.9,628.0 1331.0,628.7 1334.7,629.2 C1338.4,629.7 1341.2,630.0 1344.9,630.7 C1348.6,631.4 1353.5,633.4 1356.7,633.6 C1359.9,633.6 1361.8,632.7 1364.0,632.2 C1366.2,631.7 1368.2,630.7 1369.9,630.7 C1371.6,632.2 1372.8,638.8 1374.3,641.0 C1375.8,643.2 1376.8,643.9 1378.7,643.9 C1380.7,643.9 1382.3,643.2 1386.0,641.0 C1389.7,638.8 1395.8,633.9 1400.7,630.7 C1405.6,627.5 1409.3,624.7 1415.4,621.9 C1421.5,619.1 1430.1,615.8 1437.4,613.8 C1444.7,611.8 1453.1,611.1 1459.4,610.2 C1465.8,609.4 1471.8,610.2 1475.5,608.7 C1479.2,606.2 1476.8,599.4 1481.4,595.5 C1486.1,591.6 1496.1,587.8 1503.4,585.2 C1510.7,582.6 1516.9,581.4 1525.4,580.1 C1534.0,578.8 1544.9,577.9 1554.7,577.2 C1564.5,576.5 1578.6,576.6 1584.0,575.7 C1587.0,574.8 1586.0,575.7 1587.0,572.0 C1588.0,566.0 1588.7,547.1 1589.9,539.8 C1591.1,532.5 1593.2,531.0 1594.3,528.0 C1595.4,525.0 1595.5,523.1 1596.6,521.7 C1597.7,520.3 1599.7,519.5 1601.0,519.5 C1602.3,522.0 1603.5,533.5 1604.6,536.8 C1605.7,539.3 1606.4,539.3 1607.6,539.3 C1608.8,538.6 1610.2,537.1 1612.0,532.7 C1613.8,528.3 1615.7,517.7 1618.6,512.9 C1621.5,508.1 1625.2,506.7 1629.6,504.1 C1634.0,501.5 1638.8,499.3 1645.0,497.5 C1651.2,495.7 1659.7,494.2 1667.0,493.1 C1674.3,492.0 1681.8,491.4 1689.0,490.9 C1696.2,490.3 1705.7,490.7 1709.9,489.8 C1714.1,488.9 1712.7,485.6 1714.3,485.4 C1715.9,485.4 1715.6,488.7 1719.8,488.7 C1724.0,488.7 1731.9,485.4 1739.6,485.4 C1747.3,485.8 1756.1,488.5 1766.0,490.9 C1775.9,493.3 1789.8,497.5 1799.0,499.7 C1808.2,501.9 1814.3,503.0 1821.1,504.1 C1827.9,505.2 1835.9,506.3 1839.8,506.3 C1843.7,500.8 1842.4,478.2 1844.2,471.1 C1846.0,464.0 1847.5,463.4 1850.8,463.4 C1854.1,463.8 1858.1,468.0 1864.0,473.3 C1869.9,478.6 1878.7,488.7 1886.0,495.3 C1893.3,501.9 1900.7,508.1 1908.0,512.9 C1915.3,517.7 1924.0,521.3 1930.0,523.9 C1936.0,526.5 1941.0,528.3 1944.3,528.3 C1947.6,525.0 1947.4,511.1 1949.8,504.1 C1952.2,497.1 1955.7,492.0 1958.6,486.5 C1961.5,481.0 1964.8,473.7 1967.4,471.1 C1970.0,471.1 1970.7,471.1 1974.0,471.1 C1977.3,472.9 1984.7,479.5 1987.3,482.1 C1989.8,484.7 1988.1,485.9 1989.8,486.9 C1991.5,487.9 1995.1,486.9 1997.6,487.9 C2000.0,488.9 2001.7,489.7 2004.5,492.8 C2007.3,495.9 2010.6,502.9 2014.2,506.5 C2017.8,510.1 2022.7,513.0 2026.0,514.3 C2029.3,514.3 2031.2,514.3 2033.8,514.3 C2036.4,515.3 2039.1,519.7 2041.6,520.2 C2044.0,520.2 2046.0,517.3 2048.5,517.3 C2050.9,517.9 2053.1,522.6 2056.3,524.1 C2059.6,525.6 2063.6,525.6 2068.0,526.1 C2072.4,526.6 2079.4,527.0 2082.7,527.0 C2086.0,525.7 2086.0,518.4 2087.6,518.2 C2089.2,518.2 2090.4,523.5 2092.5,526.1 C2094.6,528.7 2097.1,533.1 2100.3,533.9 C2103.6,533.9 2108.7,531.0 2112.0,531.0 C2115.3,531.5 2117.0,535.8 2119.9,536.8 C2122.8,536.8 2126.8,536.8 2129.6,536.8 C2132.4,535.8 2134.1,531.0 2136.5,531.0 C2138.9,531.0 2141.9,535.8 2144.3,536.8 C2146.7,536.8 2150.0,536.8 2151.1,536.8" fill="none" stroke="#000000" stroke-width="3.3" stroke-linejoin="round" stroke-linecap="round"/>
<path d="M1322.9,627.8 C1324.4,628.8 1329.5,631.0 1331.7,633.6 C1333.9,636.2 1334.4,643.2 1336.1,643.2 C1337.8,643.0 1339.8,634.5 1342.0,632.2 C1344.2,629.9 1345.6,629.9 1349.3,629.2 C1353.0,628.5 1360.8,629.2 1364.0,627.8 C1367.2,625.7 1366.0,618.3 1368.4,616.8 C1370.9,616.8 1375.8,619.0 1378.7,619.0 C1381.6,617.4 1383.1,610.6 1386.0,607.2 C1388.9,603.8 1392.6,600.8 1396.3,598.4 C1400.0,596.0 1404.1,594.8 1408.0,592.6 C1411.9,590.4 1414.9,586.9 1419.8,585.2 C1424.7,583.5 1432.0,583.3 1437.4,582.3 C1442.8,581.3 1446.6,580.6 1452.0,579.4 C1457.4,578.2 1465.4,575.0 1469.6,575.0 C1473.8,575.7 1473.8,583.8 1477.0,583.8 C1480.2,582.1 1484.3,570.3 1488.7,564.7 C1493.1,559.1 1498.5,553.7 1503.4,550.0 C1508.3,546.3 1511.9,544.4 1518.0,542.7 C1524.1,541.0 1533.4,540.3 1540.0,539.8 C1546.6,539.8 1553.4,539.8 1557.6,539.8 C1561.8,541.0 1561.8,547.1 1565.0,547.1 C1568.2,547.1 1573.3,540.5 1576.7,539.8 C1580.1,539.8 1583.3,542.7 1585.5,542.7 C1587.7,541.2 1588.4,531.6 1589.9,531.0 C1591.4,531.0 1592.2,538.6 1594.4,539.3 C1596.6,539.3 1601.0,539.3 1603.2,534.9 C1605.4,529.0 1606.1,512.9 1607.6,504.1 C1609.1,495.3 1609.4,489.1 1612.0,482.1 C1614.6,475.1 1619.3,467.1 1623.0,462.3 C1626.7,457.5 1629.2,458.3 1634.0,453.5 C1638.8,448.7 1646.1,438.3 1651.6,433.7 C1657.1,429.1 1662.6,427.5 1667.0,426.0 C1671.4,424.9 1674.3,426.0 1678.0,424.9 C1681.7,423.4 1684.6,419.0 1689.0,417.2 C1693.4,415.4 1700.9,414.8 1704.4,413.9 C1707.9,413.0 1708.4,413.9 1709.9,411.7 C1711.4,407.6 1711.9,392.9 1713.2,389.6 C1714.5,389.6 1716.1,390.7 1717.6,391.8 C1719.1,392.9 1719.8,395.4 1722.0,396.3 C1724.2,397.2 1727.1,397.4 1730.8,397.4 C1734.5,396.3 1738.8,391.3 1744.0,389.6 C1749.2,387.9 1756.2,388.9 1761.7,387.4 C1767.2,385.9 1772.0,382.4 1777.1,380.8 C1782.2,379.2 1788.5,377.9 1792.5,377.5 C1796.5,377.5 1798.4,378.6 1801.3,378.6 C1804.2,378.1 1806.8,375.7 1810.1,374.2 C1813.4,372.7 1816.1,370.9 1821.1,369.8 C1826.0,368.7 1836.3,369.8 1839.8,367.6 C1842.0,360.6 1841.1,339.6 1842.0,328.0 C1842.9,316.4 1843.1,302.7 1845.3,298.3 C1847.5,298.3 1852.1,301.6 1855.2,301.6 C1858.3,300.7 1860.0,295.7 1864.0,292.8 C1868.0,289.9 1874.6,285.6 1879.4,284.0 C1884.2,282.9 1887.8,283.1 1892.6,282.9 C1897.4,282.9 1903.2,282.9 1908.0,282.9 C1912.8,280.9 1916.8,272.4 1921.2,270.8 C1925.6,270.8 1930.7,272.3 1934.4,273.0 C1938.1,273.7 1941.2,275.2 1943.2,275.2 C1945.2,272.6 1945.4,260.9 1946.5,257.6 C1947.6,255.4 1948.9,255.4 1949.8,255.4 C1950.7,263.5 1950.9,286.6 1952.0,306.0 C1953.1,325.4 1954.2,351.8 1956.4,372.0 C1958.6,392.2 1962.3,412.4 1965.2,427.1 C1968.1,441.8 1971.5,452.1 1974.0,460.1 C1976.5,468.1 1977.4,470.4 1980.0,475.2 C1982.6,480.0 1986.5,484.7 1989.8,488.9 C1993.1,493.1 1996.3,496.0 1999.6,500.6 C2002.8,505.2 2006.4,511.7 2009.3,516.3 C2012.2,520.9 2013.9,524.8 2017.2,528.0 C2020.5,531.2 2025.3,533.3 2028.9,535.8 C2032.5,538.2 2035.8,541.7 2038.7,542.7 C2041.6,542.7 2044.1,541.7 2046.5,541.7 C2048.9,543.0 2050.2,549.2 2053.3,550.5 C2056.4,550.5 2061.8,549.5 2065.1,549.5 C2068.4,550.3 2068.8,553.4 2072.9,555.4 C2077.0,557.4 2085.8,560.8 2089.5,561.3 C2093.2,561.3 2091.7,558.3 2095.4,558.3 C2099.2,558.3 2108.1,560.0 2112.0,561.3 C2115.9,562.6 2115.2,565.4 2118.9,566.2 C2122.7,566.2 2130.3,566.2 2134.5,566.2 C2138.7,567.2 2141.5,571.5 2144.3,572.0 C2147.1,572.0 2150.0,569.6 2151.1,569.1" fill="none" stroke="#ff0000" stroke-width="3.3" stroke-linejoin="round" stroke-linecap="round"/>
<path d="M1323.5,627.0 C1325.2,626.8 1330.2,627.0 1334.0,626.0 C1337.8,624.9 1342.4,620.6 1346.4,620.4 C1350.4,620.4 1353.2,622.6 1358.1,624.8 C1363.0,627.0 1371.8,633.6 1375.7,633.6 C1379.6,633.6 1379.4,630.2 1381.6,624.8 C1383.8,619.4 1386.5,610.2 1389.0,601.4 C1391.5,592.6 1393.9,581.8 1396.3,572.0 C1398.7,562.2 1401.1,553.7 1403.6,542.7 C1406.0,531.7 1408.3,518.2 1411.0,506.0 C1413.7,493.8 1416.9,482.8 1419.8,469.3 C1422.7,455.8 1425.1,438.5 1428.2,425.2 C1431.3,411.9 1434.6,402.1 1438.5,389.3 C1442.4,376.5 1447.3,359.3 1451.4,348.2 C1455.5,337.1 1458.8,331.5 1462.9,322.5 C1467.0,313.5 1473.2,302.8 1475.8,294.2 C1478.3,285.6 1477.0,283.5 1478.3,271.1 C1479.6,258.7 1481.8,236.9 1483.5,219.8 C1485.2,202.7 1487.1,185.5 1488.6,168.4 C1490.1,151.3 1491.1,132.8 1492.4,117.0 C1493.7,101.2 1495.0,85.4 1496.3,73.4 C1497.6,61.4 1499.5,49.8 1500.2,45.1" fill="none" stroke="#0000ff" stroke-width="3.3" stroke-linejoin="round" stroke-linecap="round"/>
<path d="M1322.9,624.0 C1324.9,624.3 1331.5,625.3 1334.7,626.0 C1337.9,626.7 1337.8,627.7 1342.0,628.0 C1346.2,628.0 1355.4,628.0 1359.6,628.0 C1363.8,627.5 1363.7,625.2 1366.9,625.0 C1370.1,625.0 1375.5,627.0 1378.7,627.0 C1381.9,625.5 1382.3,621.7 1386.0,616.0 C1389.7,610.3 1395.8,599.6 1400.7,593.0 C1405.6,586.4 1409.3,580.9 1415.4,576.4 C1421.5,571.9 1430.1,568.6 1437.4,566.0 C1444.7,563.4 1453.1,562.4 1459.4,561.0 C1465.8,559.6 1470.6,561.0 1475.5,557.5 C1480.4,553.8 1484.8,545.0 1488.7,539.0 C1492.6,533.0 1495.3,526.0 1499.0,521.6 C1502.7,517.2 1505.1,516.2 1510.7,512.8 C1516.3,509.4 1525.4,504.6 1532.7,501.1 C1540.0,497.6 1546.2,494.0 1554.7,492.0 C1563.2,490.0 1578.5,491.8 1584.0,489.1 C1588.0,486.4 1586.8,481.0 1588.0,476.0 C1589.2,471.0 1590.2,459.4 1591.4,459.1 C1592.6,459.1 1593.8,470.9 1595.0,474.0 C1596.2,477.1 1597.4,476.9 1598.8,477.7 C1600.2,478.5 1601.7,478.8 1603.2,478.8 C1604.7,472.2 1606.1,452.2 1607.6,438.1 C1609.1,424.0 1610.2,405.8 1612.0,394.0 C1613.8,382.2 1615.7,374.6 1618.6,367.6 C1621.5,360.6 1625.2,355.7 1629.6,352.2 C1634.0,348.7 1638.8,347.6 1645.0,346.7 C1651.2,346.7 1659.7,346.7 1667.0,346.7 C1674.3,347.1 1681.8,348.0 1689.0,348.9 C1696.2,349.8 1705.7,352.2 1709.9,352.2 C1714.1,351.6 1712.3,345.6 1714.3,345.6 C1716.3,346.0 1719.6,352.4 1722.0,354.4 C1724.4,356.4 1725.7,357.7 1728.6,357.7 C1731.5,357.7 1733.4,354.4 1739.6,354.4 C1745.8,354.6 1756.1,357.0 1766.0,358.8 C1775.9,360.6 1789.8,363.6 1799.0,365.4 C1808.2,367.2 1814.3,368.9 1821.1,369.8 C1827.9,370.7 1835.9,370.9 1839.8,370.9 C1843.7,365.8 1842.7,345.8 1844.2,339.0 C1845.7,332.2 1846.0,331.7 1848.6,330.2 C1851.2,330.2 1855.9,330.2 1859.6,330.2 C1863.3,329.8 1866.2,328.0 1870.6,328.0 C1875.0,328.2 1879.8,330.0 1886.0,331.3 C1892.2,332.6 1900.7,334.2 1908.0,335.7 C1915.3,337.2 1923.4,339.2 1930.0,340.1 C1936.6,341.0 1943.9,340.1 1947.6,341.2 C1951.3,344.7 1950.2,350.4 1952.0,361.0 C1953.8,371.6 1956.0,391.4 1958.6,405.0 C1961.2,418.6 1964.1,433.7 1967.4,442.5 C1970.7,451.3 1975.5,454.2 1978.4,457.9 C1981.3,461.5 1982.2,462.0 1984.9,464.4 C1987.6,466.8 1990.6,468.9 1994.7,472.3 C1998.8,475.7 2004.4,480.6 2009.3,485.0 C2014.2,489.4 2019.9,495.8 2024.0,498.7 C2028.1,501.6 2031.0,501.1 2033.8,502.6 C2036.6,504.1 2038.1,506.9 2040.6,507.5 C2043.0,507.5 2045.6,506.5 2048.5,506.5 C2051.4,507.3 2054.1,510.4 2058.2,512.4 C2062.3,514.4 2068.8,516.9 2072.9,518.2 C2077.0,519.5 2080.2,520.2 2082.7,520.2 C2085.1,519.1 2086.0,512.2 2087.6,511.4 C2089.2,511.4 2090.4,513.3 2092.5,515.3 C2094.6,517.2 2097.1,521.3 2100.3,523.1 C2103.6,524.9 2108.4,524.6 2112.0,526.1 C2115.6,527.6 2118.5,530.1 2121.8,531.9 C2125.1,533.7 2128.8,536.2 2131.6,536.8 C2134.4,536.8 2135.2,535.4 2138.4,535.4 C2141.7,536.4 2149.0,541.5 2151.1,542.7" fill="none" stroke="#ff00ff" stroke-width="3.3" stroke-linejoin="round" stroke-linecap="round"/>
<path d="M1325.9,621.2 C1327.4,621.8 1332.0,623.8 1334.7,624.8 C1337.4,625.8 1337.8,626.6 1342.0,627.0 C1346.2,627.0 1355.4,627.0 1359.6,627.0 C1363.8,626.1 1363.7,622.6 1366.9,621.9 C1370.1,621.9 1375.5,622.6 1378.7,622.6 C1381.9,621.6 1382.3,620.5 1386.0,616.0 C1389.7,611.5 1395.8,601.4 1400.7,595.5 C1405.6,589.6 1409.3,585.2 1415.4,580.8 C1421.5,576.4 1430.1,572.0 1437.4,569.1 C1444.7,566.2 1453.1,564.8 1459.4,563.2 C1465.8,561.6 1470.6,563.2 1475.5,559.6 C1480.4,555.9 1484.8,547.2 1488.7,541.2 C1492.6,535.2 1495.3,528.0 1499.0,523.6 C1502.7,519.2 1505.1,518.2 1510.7,514.8 C1516.3,511.4 1525.4,506.4 1532.7,503.1 C1540.0,499.8 1546.2,496.8 1554.7,495.0 C1563.2,493.2 1578.1,494.7 1584.0,492.1 C1589.9,489.5 1588.2,481.7 1589.9,479.6 C1591.6,479.6 1592.3,479.6 1594.3,479.6 C1596.2,480.2 1600.1,482.7 1601.6,483.3 C1603.1,483.3 1602.5,483.3 1603.2,483.2 C1603.9,482.8 1605.3,483.2 1606.0,481.1 C1606.7,477.2 1606.6,470.9 1607.6,460.1 C1608.6,449.3 1610.5,429.3 1612.0,416.1 C1613.5,402.9 1613.8,388.2 1616.4,380.8 C1619.0,373.4 1623.4,372.4 1627.4,372.0 C1631.4,372.0 1635.8,376.0 1640.6,378.6 C1645.4,381.2 1649.8,384.1 1656.0,387.4 C1662.2,390.7 1670.7,394.8 1678.0,398.5 C1685.3,402.2 1694.7,406.9 1700.0,409.5 C1705.3,412.1 1707.7,413.7 1709.9,413.9 C1712.1,413.9 1710.1,410.6 1713.2,410.6 C1716.3,412.1 1723.5,420.3 1728.6,422.7 C1733.7,424.9 1737.8,423.6 1744.0,424.9 C1750.2,426.2 1756.8,428.6 1766.0,430.4 C1775.2,432.2 1789.8,434.4 1799.0,435.9 C1808.2,437.4 1814.3,438.1 1821.1,439.2 C1827.9,440.3 1835.9,442.5 1839.8,442.5 C1843.7,438.6 1842.9,421.6 1844.2,416.1 C1845.5,410.6 1844.9,409.7 1847.5,409.5 C1850.1,409.5 1855.0,414.6 1859.6,415.0 C1864.2,415.0 1868.8,411.9 1875.0,411.7 C1881.2,411.7 1889.7,413.2 1897.0,413.9 C1904.3,414.6 1911.3,415.7 1919.0,416.1 C1926.7,416.1 1938.2,416.1 1943.2,416.1 C1948.2,415.2 1946.9,410.6 1948.7,410.6 C1950.5,411.3 1951.8,414.8 1954.2,420.5 C1956.6,426.2 1959.7,437.0 1963.0,444.7 C1966.3,452.4 1971.2,461.9 1974.0,466.7 C1976.8,471.5 1977.4,471.2 1980.0,473.3 C1982.6,475.4 1986.5,477.6 1989.8,479.1 C1993.1,480.6 1996.3,480.8 1999.6,482.1 C2002.8,483.4 2005.2,484.6 2009.3,486.9 C2013.4,489.2 2019.9,493.7 2024.0,495.7 C2028.1,497.7 2030.5,497.8 2033.8,498.7 C2037.1,499.6 2041.1,501.0 2043.6,501.1 C2046.0,501.1 2046.1,499.2 2048.5,499.2 C2050.9,499.6 2054.1,502.4 2058.2,503.6 C2062.3,504.8 2068.8,505.7 2072.9,506.5 C2077.0,507.3 2080.2,508.5 2082.7,508.5 C2085.1,506.9 2086.0,498.0 2087.6,496.7 C2089.2,496.7 2090.4,498.2 2092.5,500.6 C2094.6,503.1 2097.1,509.3 2100.3,511.4 C2103.6,513.3 2108.4,512.2 2112.0,513.3 C2115.6,514.4 2118.5,517.2 2121.8,518.2 C2125.1,519.2 2128.8,519.2 2131.6,519.2 C2134.4,519.1 2135.9,517.3 2138.4,517.3 C2140.9,518.3 2144.0,524.0 2146.3,525.1 C2148.6,525.1 2151.1,524.3 2152.1,524.1" fill="none" stroke="#008000" stroke-width="3.3" stroke-linejoin="round" stroke-linecap="round"/>
</g>
<polyline points="231.3,1465.2 290.1,1460.7 407.8,1449.5 603.8,1450.0 995.9,1450.1" fill="none" stroke="#000000" stroke-width="4.2" stroke-linejoin="round" stroke-linecap="round" />
<rect x="224.6" y="1458.4" width="13.5" height="13.5" fill="#000000"/>
<rect x="283.4" y="1453.9" width="13.5" height="13.5" fill="#000000"/>
<rect x="401.0" y="1442.7" width="13.5" height="13.5" fill="#000000"/>
<rect x="597.0" y="1443.2" width="13.5" height="13.5" fill="#000000"/>
<rect x="989.1" y="1443.3" width="13.5" height="13.5" fill="#000000"/>
<polyline points="231.3,1461.1 290.1,1455.8 407.8,1438.9 603.8,1434.9 995.9,1422.0" fill="none" stroke="#ff0000" stroke-width="4.2" stroke-linejoin="round" stroke-linecap="round" />
<circle cx="231.3" cy="1461.1" r="7.5" fill="#ff0000"/>
<circle cx="290.1" cy="1455.8" r="7.5" fill="#ff0000"/>
<circle cx="407.8" cy="1438.9" r="7.5" fill="#ff0000"/>
<circle cx="603.8" cy="1434.9" r="7.5" fill="#ff0000"/>
<circle cx="995.9" cy="1422.0" r="7.5" fill="#ff0000"/>
<polyline points="231.3,1458.0 290.1,1448.6 407.8,1430.8 603.8,1432.7 995.9,1428.9" fill="none" stroke="#ff00ff" stroke-width="4.2" stroke-linejoin="round" stroke-linecap="round" />
<polygon points="231.3,1466.5 239.3,1451.5 223.3,1451.5" fill="#ff00ff"/>
<polygon points="290.1,1457.1 298.1,1442.1 282.1,1442.1" fill="#ff00ff"/>
<polygon points="407.8,1439.3 415.8,1424.3 399.8,1424.3" fill="#ff00ff"/>
<polygon points="603.8,1441.2 611.8,1426.2 595.8,1426.2" fill="#ff00ff"/>
<polygon points="995.9,1437.4 1003.9,1422.4 987.9,1422.4" fill="#ff00ff"/>
<polyline points="231.3,1458.4 290.1,1449.6 407.8,1437.0 603.8,1441.9 995.9,1439.5" fill="none" stroke="#008000" stroke-width="4.2" stroke-linejoin="round" stroke-linecap="round" />
<polygon points="231.3,1449.4 239.3,1458.4 231.3,1467.4 223.3,1458.4" fill="#008000"/>
<polygon points="290.1,1440.6 298.1,1449.6 290.1,1458.6 282.1,1449.6" fill="#008000"/>
<polygon points="407.8,1428.0 415.8,1437.0 407.8,1446.0 399.8,1437.0" fill="#008000"/>
<polygon points="603.8,1432.9 611.8,1441.9 603.8,1450.9 595.8,1441.9" fill="#008000"/>
<polygon points="995.9,1430.5 1003.9,1439.5 995.9,1448.5 987.9,1439.5" fill="#008000"/>
<polyline points="231.3,1424.8 290.1,1344.3 407.8,1082.8 603.8,1032.6 995.9,943.2" fill="none" stroke="#0000ff" stroke-width="3.6" stroke-linejoin="round" stroke-linecap="round" />
<line x1="231.3" y1="1434.0" x2="231.3" y2="1415.8" stroke="#0000ff" stroke-width="3.4" />
<line x1="223.3" y1="1434.0" x2="239.3" y2="1434.0" stroke="#0000ff" stroke-width="3.4" />
<line x1="223.3" y1="1415.8" x2="239.3" y2="1415.8" stroke="#0000ff" stroke-width="3.4" />
<polygon points="231.3,1416.3 239.3,1431.3 223.3,1431.3" fill="#0000ff"/>
<line x1="290.1" y1="1359.5" x2="290.1" y2="1331.6" stroke="#0000ff" stroke-width="3.4" />
<line x1="282.1" y1="1359.5" x2="298.1" y2="1359.5" stroke="#0000ff" stroke-width="3.4" />
<line x1="282.1" y1="1331.6" x2="298.1" y2="1331.6" stroke="#0000ff" stroke-width="3.4" />
<polygon points="290.1,1335.8 298.1,1350.8 282.1,1350.8" fill="#0000ff"/>
<line x1="407.8" y1="1125.1" x2="407.8" y2="1040.7" stroke="#0000ff" stroke-width="3.4" />
<line x1="399.8" y1="1125.1" x2="415.8" y2="1125.1" stroke="#0000ff" stroke-width="3.4" />
<line x1="399.8" y1="1040.7" x2="415.8" y2="1040.7" stroke="#0000ff" stroke-width="3.4" />
<polygon points="407.8,1074.3 415.8,1089.3 399.8,1089.3" fill="#0000ff"/>
<line x1="603.8" y1="1076.8" x2="603.8" y2="986.5" stroke="#0000ff" stroke-width="3.4" />
<line x1="595.8" y1="1076.8" x2="611.8" y2="1076.8" stroke="#0000ff" stroke-width="3.4" />
<line x1="595.8" y1="986.5" x2="611.8" y2="986.5" stroke="#0000ff" stroke-width="3.4" />
<polygon points="603.8,1024.1 611.8,1039.1 595.8,1039.1" fill="#0000ff"/>
<line x1="995.9" y1="999.2" x2="995.9" y2="887.6" stroke="#0000ff" stroke-width="3.4" />
<line x1="987.9" y1="999.2" x2="1003.9" y2="999.2" stroke="#0000ff" stroke-width="3.4" />
<line x1="987.9" y1="887.6" x2="1003.9" y2="887.6" stroke="#0000ff" stroke-width="3.4" />
<polygon points="995.9,934.7 1003.9,949.7 987.9,949.7" fill="#0000ff"/>
<rect x="250.2" y="856.1" width="13.5" height="13.5" fill="#000000"/>
<circle cx="257.0" cy="901.6" r="7.5" fill="#ff0000"/>
<polygon points="257.0,931.8 265.0,946.8 249.0,946.8" fill="#0000ff"/>
<polygon points="257.0,987.5 265.0,972.5 249.0,972.5" fill="#ff00ff"/>
<polygon points="257.0,1008.7 265.0,1017.7 257.0,1026.7 249.0,1017.7" fill="#008000"/>
<g clip-path="url(#cd)">
<polyline points="1346.3,1460.5 1403.8,1419.0 1518.9,1316.1 1710.7,1320.5 2094.3,1321.7" fill="none" stroke="#000000" stroke-width="3.6" stroke-linejoin="round" stroke-linecap="round" />
<rect x="1339.5" y="1453.7" width="13.5" height="13.5" fill="#000000"/>
<rect x="1397.1" y="1412.3" width="13.5" height="13.5" fill="#000000"/>
<rect x="1512.1" y="1309.3" width="13.5" height="13.5" fill="#000000"/>
<rect x="1703.9" y="1313.7" width="13.5" height="13.5" fill="#000000"/>
<rect x="2087.5" y="1315.0" width="13.5" height="13.5" fill="#000000"/>
<polyline points="1346.3,1422.9 1403.8,1374.6 1518.9,1218.9 1710.7,1181.3 2094.3,1063.3" fill="none" stroke="#ff0000" stroke-width="3.6" stroke-linejoin="round" stroke-linecap="round" />
<circle cx="1346.3" cy="1422.9" r="7.5" fill="#ff0000"/>
<circle cx="1403.8" cy="1374.6" r="7.5" fill="#ff0000"/>
<circle cx="1518.9" cy="1218.9" r="7.5" fill="#ff0000"/>
<circle cx="1710.7" cy="1181.3" r="7.5" fill="#ff0000"/>
<circle cx="2094.3" cy="1063.3" r="7.5" fill="#ff0000"/>
<polyline points="1346.3,1394.6 1403.8,1308.4 1518.9,1143.6 1710.7,1161.6 2094.3,1126.6" fill="none" stroke="#ff00ff" stroke-width="3.6" stroke-linejoin="round" stroke-linecap="round" />
<polygon points="1346.3,1403.1 1354.3,1388.1 1338.3,1388.1" fill="#ff00ff"/>
<polygon points="1403.8,1316.9 1411.8,1301.9 1395.8,1301.9" fill="#ff00ff"/>
<polygon points="1518.9,1152.1 1526.9,1137.1 1510.9,1137.1" fill="#ff00ff"/>
<polygon points="1710.7,1170.1 1718.7,1155.1 1702.7,1155.1" fill="#ff00ff"/>
<polygon points="2094.3,1135.1 2102.3,1120.1 2086.3,1120.1" fill="#ff00ff"/>
<polyline points="1346.3,1398.4 1403.8,1317.6 1518.9,1201.5 1710.7,1246.6 2094.3,1224.2" fill="none" stroke="#008000" stroke-width="3.6" stroke-linejoin="round" stroke-linecap="round" />
<polygon points="1346.3,1389.4 1354.3,1398.4 1346.3,1407.4 1338.3,1398.4" fill="#008000"/>
<polygon points="1403.8,1308.6 1411.8,1317.6 1403.8,1326.6 1395.8,1317.6" fill="#008000"/>
<polygon points="1518.9,1192.5 1526.9,1201.5 1518.9,1210.5 1510.9,1201.5" fill="#008000"/>
<polygon points="1710.7,1237.6 1718.7,1246.6 1710.7,1255.6 1702.7,1246.6" fill="#008000"/>
<polygon points="2094.3,1215.2 2102.3,1224.2 2094.3,1233.2 2086.3,1224.2" fill="#008000"/>
<polyline points="1346.3,1080.6 1403.8,323.8" fill="none" stroke="#0000ff" stroke-width="3.6" stroke-linejoin="round" stroke-linecap="round" />
<polygon points="1346.3,1071.6 1354.8,1087.6 1337.8,1087.6" fill="#0000ff"/>
</g>
<rect x="1790.2" y="856.3" width="12.6" height="12.6" fill="#000000"/>
<circle cx="1796.5" cy="900.2" r="7.0" fill="#ff0000"/>
<polygon points="1796.5,929.8 1804.0,943.8 1789.0,943.8" fill="#0000ff"/>
<polygon points="1796.5,983.4 1804.0,969.4 1789.0,969.4" fill="#ff00ff"/>
<polygon points="1796.5,1004.5 1804.0,1013.0 1796.5,1021.5 1789.0,1013.0" fill="#008000"/>
</svg>
</body></html>
